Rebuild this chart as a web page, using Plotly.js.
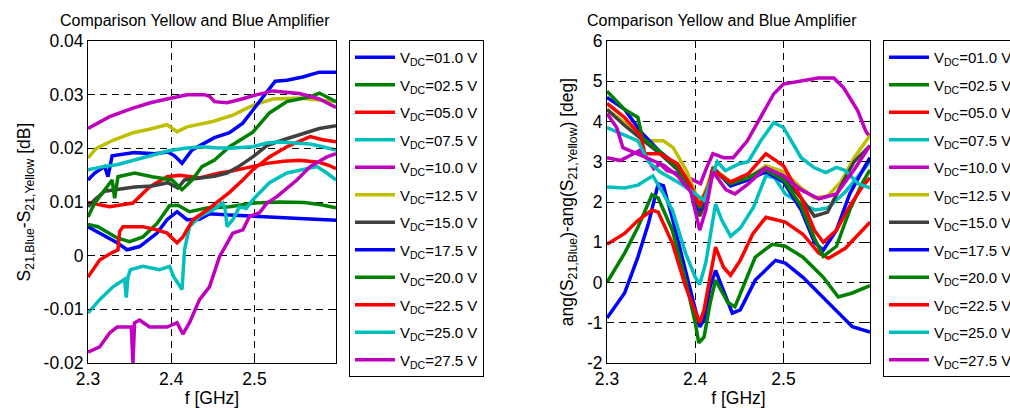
<!DOCTYPE html>
<html>
<head>
<meta charset="utf-8">
<script src="https://cdn.plot.ly/plotly-3.0.1.min.js"></script>
<style>html,body{margin:0;padding:0;background:#fff;overflow:hidden;}#chart{width:1025px;height:408px;}</style>
</head>
<body>
<div id="chart"></div>
<script>
// ---------- labels ----------
const chartTitle = 'Comparison Yellow and Blue Amplifier';
const legendLabels = ['V<sub>DC</sub>=01.0 V','V<sub>DC</sub>=02.5 V','V<sub>DC</sub>=05.0 V','V<sub>DC</sub>=07.5 V',
  'V<sub>DC</sub>=10.0 V','V<sub>DC</sub>=12.5 V','V<sub>DC</sub>=15.0 V','V<sub>DC</sub>=17.5 V',
  'V<sub>DC</sub>=20.0 V','V<sub>DC</sub>=22.5 V','V<sub>DC</sub>=25.0 V','V<sub>DC</sub>=27.5 V'];
const xTickVals = [2.3, 2.4, 2.5];
const xTickText = ['2.3', '2.4', '2.5'];
const magTickVals = [-0.02, -0.01, 0, 0.01, 0.02, 0.03, 0.04];
const magTickText = ['-0.02', '-0.01', '0', '0.01', '0.02', '0.03', '0.04'];
const phTickVals = [-2, -1, 0, 1, 2, 3, 4, 5, 6];
const phTickText = ['-2', '-1', '0', '1', '2', '3', '4', '5', '6'];

// ---------- left panel: S21 magnitude difference [dB] ----------
const magF_01 = [2.300,2.314,2.335,2.347,2.362,2.383,2.395,2.407,2.419,2.434,2.446,2.470,2.498,2.530,2.560,2.598];
const magV_01 = [0.0054,0.0042,0.0024,0.0011,0.0017,0.0042,0.0067,0.0082,0.0067,0.0068,0.0078,0.0076,0.0073,0.0071,0.0069,0.0066];
const magF_02 = [2.300,2.312,2.335,2.350,2.366,2.383,2.398,2.408,2.422,2.443,2.470,2.500,2.530,2.560,2.580,2.598];
const magV_02 = [0.0058,0.0054,0.0033,0.0026,0.0035,0.0060,0.0093,0.0094,0.0082,0.0089,0.0091,0.0098,0.0100,0.0099,0.0095,0.0089];
const magF_05 = [2.300,2.326,2.354,2.374,2.395,2.410,2.434,2.458,2.474,2.498,2.515,2.535,2.554,2.578,2.590,2.598];
const magV_05 = [0.0099,0.0091,0.0098,0.0128,0.0147,0.0150,0.0145,0.0154,0.0158,0.0166,0.0172,0.0176,0.0178,0.0174,0.0168,0.0162];
const magF_07 = [2.300,2.314,2.330,2.344,2.346,2.348,2.351,2.366,2.386,2.398,2.403,2.413,2.416,2.422,2.434,2.450,2.462,2.465,2.467,2.474,2.482,2.490,2.498,2.518,2.539,2.558,2.575,2.587,2.598];
const magV_07 = [-0.0107,-0.0082,-0.0058,-0.0044,-0.0078,-0.0040,-0.0026,-0.0020,-0.0026,-0.0020,-0.0039,-0.0063,0.0011,0.0054,0.0073,0.0085,0.0098,0.0085,0.0054,0.0067,0.0091,0.0088,0.0104,0.0136,0.0154,0.0160,0.0166,0.0154,0.0141];
const magF_10 = [2.300,2.314,2.326,2.335,2.352,2.354,2.356,2.362,2.374,2.395,2.407,2.414,2.422,2.434,2.446,2.458,2.474,2.486,2.494,2.506,2.515,2.527,2.551,2.567,2.587,2.598];
const magV_10 = [-0.0180,-0.0170,-0.0144,-0.0133,-0.0133,-0.0200,-0.0125,-0.0120,-0.0133,-0.0133,-0.0125,-0.0146,-0.0125,-0.0082,-0.0058,-0.0002,0.0042,0.0048,0.0073,0.0080,0.0098,0.0110,0.0141,0.0166,0.0184,0.0190];
const magF_12 = [2.300,2.310,2.330,2.354,2.375,2.395,2.407,2.419,2.450,2.474,2.498,2.522,2.554,2.578,2.598];
const magV_12 = [0.0182,0.0200,0.0215,0.0229,0.0236,0.0244,0.0231,0.0240,0.0250,0.0262,0.0280,0.0292,0.0294,0.0291,0.0287];
const magF_15 = [2.300,2.308,2.320,2.336,2.356,2.377,2.396,2.408,2.416,2.437,2.452,2.467,2.480,2.498,2.515,2.535,2.554,2.578,2.598];
const magV_15 = [0.0091,0.0104,0.0120,0.0123,0.0128,0.0130,0.0136,0.0126,0.0141,0.0145,0.0148,0.0154,0.0165,0.0184,0.0205,0.0216,0.0225,0.0237,0.0242];
const magF_17 = [2.300,2.308,2.320,2.324,2.329,2.356,2.380,2.396,2.404,2.413,2.425,2.452,2.470,2.486,2.498,2.510,2.525,2.539,2.558,2.578,2.598];
const magV_17 = [0.0141,0.0154,0.0166,0.0147,0.0186,0.0192,0.0190,0.0193,0.0186,0.0172,0.0197,0.0220,0.0229,0.0247,0.0271,0.0296,0.0325,0.0327,0.0333,0.0342,0.0342];
const magF_20 = [2.300,2.308,2.329,2.332,2.336,2.356,2.377,2.401,2.413,2.425,2.437,2.452,2.470,2.498,2.518,2.539,2.567,2.578,2.598];
const magV_20 = [0.0072,0.0098,0.0141,0.0107,0.0147,0.0154,0.0147,0.0141,0.0123,0.0141,0.0166,0.0178,0.0203,0.0230,0.0266,0.0287,0.0296,0.0303,0.0287];
const magF_22 = [2.300,2.314,2.328,2.336,2.338,2.342,2.366,2.383,2.395,2.407,2.414,2.426,2.443,2.458,2.470,2.486,2.498,2.518,2.539,2.567,2.582,2.598];
const magV_22 = [-0.0040,-0.0008,0.0005,0.0011,0.0045,0.0054,0.0054,0.0048,0.0042,0.0024,0.0035,0.0067,0.0085,0.0104,0.0118,0.0141,0.0160,0.0184,0.0203,0.0222,0.0216,0.0212];
const magF_25 = [2.300,2.315,2.336,2.356,2.377,2.396,2.416,2.437,2.452,2.470,2.498,2.515,2.530,2.550,2.567,2.582,2.598];
const magV_25 = [0.0160,0.0165,0.0170,0.0178,0.0188,0.0195,0.0200,0.0203,0.0201,0.0200,0.0203,0.0210,0.0212,0.0210,0.0208,0.0203,0.0197];
const magF_27 = [2.300,2.312,2.326,2.354,2.375,2.395,2.419,2.440,2.446,2.452,2.467,2.485,2.498,2.522,2.554,2.578,2.590,2.598];
const magV_27 = [0.0237,0.0248,0.0259,0.0275,0.0285,0.0292,0.0300,0.0300,0.0297,0.0287,0.0285,0.0292,0.0298,0.0307,0.0302,0.0292,0.0282,0.0276];

// ---------- right panel: phase difference [deg] ----------
const phF_01 = [2.300,2.320,2.335,2.347,2.358,2.364,2.374,2.389,2.400,2.405,2.410,2.417,2.423,2.432,2.442,2.451,2.468,2.491,2.502,2.522,2.545,2.562,2.578,2.598];
const phV_01 = [-0.88,-0.26,0.63,1.47,2.45,2.40,1.60,0.30,-0.68,-1.10,-0.93,-0.10,0.30,-0.20,-0.76,-0.68,0.06,0.55,0.48,0.13,-0.37,-0.76,-1.10,-1.23];
const phF_02 = [2.300,2.320,2.335,2.351,2.358,2.374,2.389,2.400,2.404,2.410,2.417,2.423,2.437,2.445,2.468,2.487,2.502,2.522,2.545,2.562,2.578,2.598];
const phV_02 = [0.00,0.73,1.37,2.18,2.10,1.30,0.06,-1.00,-1.50,-1.35,-0.50,0.06,-0.50,-0.60,0.63,0.95,0.90,0.63,0.13,-0.36,-0.26,-0.08];
const phF_05 = [2.300,2.320,2.335,2.351,2.358,2.374,2.389,2.400,2.405,2.410,2.417,2.423,2.432,2.440,2.451,2.465,2.480,2.502,2.522,2.540,2.551,2.570,2.598];
const phV_05 = [0.95,1.22,1.54,1.80,1.75,0.98,-0.10,-0.76,-1.00,-0.68,0.20,0.88,0.38,0.18,0.55,1.20,1.62,1.50,1.20,0.73,0.60,0.85,1.50];
const phF_07 = [2.300,2.320,2.335,2.347,2.352,2.364,2.374,2.389,2.400,2.405,2.412,2.423,2.430,2.440,2.451,2.466,2.480,2.490,2.502,2.520,2.536,2.550,2.570,2.585,2.598];
const phV_07 = [2.37,2.35,2.42,2.60,2.65,2.20,1.80,0.73,0.13,-0.05,0.50,1.95,1.55,1.15,1.35,1.87,2.65,2.60,2.20,1.96,1.80,1.85,2.25,2.65,3.00];
const phF_10 = [2.300,2.315,2.330,2.337,2.345,2.353,2.360,2.368,2.383,2.398,2.406,2.413,2.420,2.432,2.443,2.459,2.474,2.489,2.500,2.519,2.539,2.557,2.568,2.584,2.593,2.598];
const phV_10 = [3.10,3.03,3.20,3.28,3.10,2.83,2.95,2.78,2.70,2.53,2.46,2.86,3.20,3.10,3.10,3.52,4.10,4.69,4.93,5.00,5.08,5.08,4.84,4.27,3.77,3.60];
const phF_12 = [2.300,2.318,2.335,2.349,2.364,2.375,2.390,2.400,2.405,2.412,2.420,2.440,2.460,2.480,2.500,2.520,2.535,2.550,2.565,2.580,2.598];
const phV_12 = [4.30,4.00,3.75,3.52,3.52,3.35,2.78,2.20,1.95,2.30,2.85,2.50,2.60,2.90,2.75,2.35,2.10,2.15,2.50,3.10,3.65];
const phF_15 = [2.300,2.320,2.340,2.360,2.380,2.395,2.405,2.412,2.420,2.440,2.460,2.480,2.500,2.520,2.535,2.550,2.565,2.580,2.598];
const phV_15 = [4.30,3.90,3.55,3.20,2.80,2.30,1.65,2.00,2.80,2.45,2.60,2.85,2.60,2.10,1.65,1.75,2.40,3.00,3.40];
const phF_17 = [2.300,2.310,2.320,2.340,2.360,2.380,2.395,2.405,2.415,2.420,2.440,2.460,2.480,2.500,2.520,2.535,2.545,2.560,2.575,2.590,2.598];
const phV_17 = [4.60,4.45,4.30,3.70,3.25,2.90,2.30,1.80,2.30,2.85,2.40,2.55,2.75,2.50,1.80,1.00,0.80,1.30,2.20,2.80,3.10];
const phF_20 = [2.300,2.320,2.335,2.340,2.360,2.380,2.395,2.405,2.415,2.420,2.440,2.460,2.480,2.500,2.520,2.535,2.545,2.560,2.575,2.590,2.598];
const phV_20 = [4.75,4.30,4.10,3.60,3.25,2.85,2.30,1.85,2.30,2.80,2.45,2.60,2.80,2.55,1.90,1.10,0.65,0.90,1.80,2.50,2.80];
const phF_22 = [2.300,2.320,2.338,2.343,2.360,2.380,2.395,2.405,2.415,2.420,2.440,2.460,2.480,2.500,2.520,2.535,2.545,2.560,2.575,2.590,2.598];
const phV_22 = [4.45,4.10,3.65,3.20,3.20,2.95,2.40,1.90,2.40,2.80,2.50,2.70,3.20,2.90,2.10,1.30,1.00,1.30,1.90,2.40,2.60];
const phF_25 = [2.300,2.317,2.335,2.347,2.360,2.380,2.394,2.410,2.425,2.434,2.450,2.460,2.475,2.489,2.500,2.520,2.535,2.548,2.560,2.570,2.585,2.598];
const phV_25 = [3.85,3.70,3.52,3.00,2.75,2.50,2.30,2.04,3.00,2.78,2.95,3.00,3.55,3.97,3.85,3.10,2.85,2.73,2.86,2.78,2.45,2.35];
const phF_27 = [2.300,2.311,2.318,2.335,2.350,2.365,2.380,2.395,2.405,2.412,2.420,2.435,2.445,2.460,2.480,2.500,2.520,2.540,2.560,2.580,2.598];
const phV_27 = [4.20,3.85,3.35,3.20,3.05,2.90,2.65,2.25,1.30,1.80,2.75,2.30,2.20,2.45,2.85,2.65,2.30,2.08,2.20,2.80,3.40];

// ---------- styling ----------
const seriesColors = ['#0000ff','#008000','#ff0000','#00bfbf','#bf00bf','#bfbf00','#404040',
                      '#0000ff','#008000','#ff0000','#00bfbf','#bf00bf'];
const FONT = 'Liberation Sans, Arial, Helvetica, sans-serif';

const magF = [magF_01,magF_02,magF_05,magF_07,magF_10,magF_12,magF_15,magF_17,magF_20,magF_22,magF_25,magF_27];
const magV = [magV_01,magV_02,magV_05,magV_07,magV_10,magV_12,magV_15,magV_17,magV_20,magV_22,magV_25,magV_27];
const phF = [phF_01,phF_02,phF_05,phF_07,phF_10,phF_12,phF_15,phF_17,phF_20,phF_22,phF_25,phF_27];
const phV = [phV_01,phV_02,phV_05,phV_07,phV_10,phV_12,phV_15,phV_17,phV_20,phV_22,phV_25,phV_27];

const traces = [];
for (let i = 0; i < legendLabels.length; i++) {
  traces.push({
    x: magF[i], y: magV[i], type: 'scatter', mode: 'lines', name: legendLabels[i],
    line: {color: seriesColors[i], width: 3.5}, xaxis: 'x', yaxis: 'y',
    legend: 'legend', legendgroup: 'L' + i
  });
}
for (let i = 0; i < legendLabels.length; i++) {
  traces.push({
    x: phF[i], y: phV[i], type: 'scatter', mode: 'lines', name: legendLabels[i],
    line: {color: seriesColors[i], width: 3.5}, xaxis: 'x2', yaxis: 'y2',
    legend: 'legend2', legendgroup: 'R' + i
  });
}

// paper is slightly wider than the 1010 px window so the right legend is clipped like the reference
const W = 1025, H = 408;
const yDom = [(H - 363) / H, (H - 41) / H];
function xAxis(dom, anchor) {
  return {
    domain: dom, anchor: anchor, range: [2.3, 2.598],
    tickmode: 'array', tickvals: xTickVals, ticktext: xTickText,
    ticks: 'inside', ticklen: 4, tickcolor: '#000',
    showline: true, mirror: 'ticks', linecolor: '#000', linewidth: 1,
    showgrid: true, gridcolor: '#000', gridwidth: 1, griddash: '7px,5px',
    zeroline: false, tickfont: {family: FONT, size: 17.5, color: '#000'},
    title: {text: 'f [GHz]', font: {family: FONT, size: 17.5, color: '#000'}, standoff: 4}
  };
}
function yAxis(dom, anchor, range, tv, tt, title) {
  return {
    domain: dom, anchor: anchor, range: range,
    tickmode: 'array', tickvals: tv, ticktext: tt,
    ticks: 'inside', ticklen: 4, tickcolor: '#000',
    showline: true, mirror: 'ticks', linecolor: '#000', linewidth: 1,
    showgrid: true, gridcolor: '#000', gridwidth: 1, griddash: '7px,5px',
    zeroline: false, tickfont: {family: FONT, size: 17.5, color: '#000'},
    title: {text: title, font: {family: FONT, size: 17.5, color: '#000'}, standoff: 8}
  };
}
function legendDef(xpx) {
  return {
    x: xpx / W, y: (H - 40) / H, xanchor: 'left', yanchor: 'top',
    bgcolor: '#fff', bordercolor: '#000', borderwidth: 1,
    font: {family: FONT, size: 15, color: '#000'},
    traceorder: 'grouped', tracegroupgap: 5, itemwidth: 40
  };
}

const layout = {
  width: W, height: H,
  margin: {l: 0, r: 0, t: 0, b: 0},
  paper_bgcolor: '#fff', plot_bgcolor: '#fff',
  font: {family: FONT, color: '#000'},
  showlegend: true,
  xaxis: xAxis([88 / W, 336 / W], 'y'),
  yaxis: yAxis(yDom, 'x', [-0.02, 0.04], magTickVals, magTickText,
               'S<sub>21,Blue</sub>-S<sub>21,Yellow</sub> [dB]'),
  xaxis2: xAxis([607 / W, 870 / W], 'y2'),
  yaxis2: yAxis(yDom, 'x2', [-2, 6], phTickVals, phTickText,
               'ang(S<sub>21,Blue</sub>)-ang(S<sub>21,Yellow</sub>) [deg]'),
  legend: legendDef(349),
  legend2: legendDef(883),
  annotations: [
    {text: chartTitle, xref: 'paper', yref: 'paper', x: 58 / W, y: (H - 20) / H,
     xanchor: 'left', yanchor: 'middle', showarrow: false,
     font: {family: FONT, size: 16, color: '#000'}},
    {text: chartTitle, xref: 'paper', yref: 'paper', x: 585 / W, y: (H - 20) / H,
     xanchor: 'left', yanchor: 'middle', showarrow: false,
     font: {family: FONT, size: 16, color: '#000'}}
  ]
};

Plotly.newPlot('chart', traces, layout, {staticPlot: true, displayModeBar: false});
</script>
</body>
</html>
